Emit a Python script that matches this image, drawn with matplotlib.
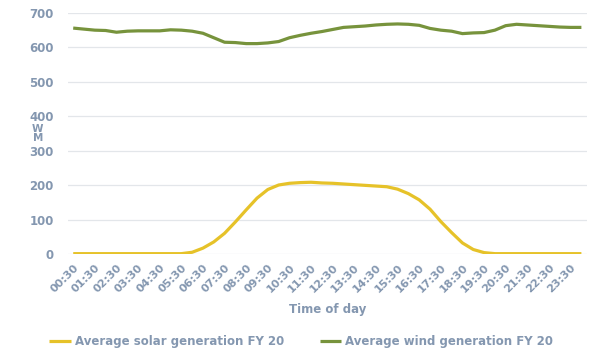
import matplotlib
matplotlib.use("Agg")
import matplotlib.pyplot as plt
import numpy as np

# half-hourly time slots, every other one labelled
times = [f"{(i + 1) // 2:02d}:{'30' if i % 2 == 0 else '00'}" for i in range(48)]
tick_labels = [f"{h:02d}:30" for h in range(24)]

solar = [1, 1, 1, 1, 1, 1, 1, 1, 1, 1, 1, 5, 17, 35, 60, 93, 128, 162, 187, 200,
         205, 207, 208, 206, 205, 203, 201, 199, 197, 195, 188, 175, 157, 130, 94, 62,
         32, 13, 4, 1, 1, 1, 1, 1, 1, 1, 1, 1]
wind = [655, 652, 649, 648, 643, 646, 647, 647, 647, 650, 649, 646, 640, 627, 614, 613,
        610, 610, 612, 616, 627, 634, 640, 645, 651, 657, 659, 661, 664, 666, 667, 666,
        663, 654, 649, 646, 639, 641, 642, 649, 662, 666, 664, 662, 660, 658, 657, 657]

text_col = "#8497b0"
solar_col = "#e6c229"
wind_col = "#77933c"

fig = plt.figure(figsize=(6, 3.54), dpi=100)
ax = fig.add_axes([0.113, 0.2825, 0.865, 0.682])

x = np.arange(len(times))
ax.plot(x, solar, color=solar_col, lw=2.3, label="Average solar generation FY 20",
        solid_capstyle="butt")
ax.plot(x, wind, color=wind_col, lw=2.3, label="Average wind generation FY 20",
        solid_capstyle="butt")

ax.set_xlim(-0.5, len(times) - 0.5)
ax.set_ylim(0, 700)
ax.set_yticks(range(0, 701, 100))
ax.set_xticks(x[::2])
ax.set_xticklabels(tick_labels, rotation=45, ha="right", rotation_mode="anchor")

for s in ax.spines.values():
    s.set_visible(False)
ax.grid(axis="y", color="#e3e6ea", lw=0.9)
ax.set_axisbelow(True)
ax.tick_params(length=0, colors=text_col, labelsize=8.5)
ax.tick_params(axis="y", pad=10)
ax.tick_params(axis="x", labelsize=8, pad=6)
for lab in ax.get_xticklabels() + ax.get_yticklabels():
    lab.set_fontweight("bold")

ax.set_xlabel("Time of day", color=text_col, fontsize=8.5, fontweight="bold", labelpad=6)
# stacked unit label between the 400 and 300 ticks
fig.text(0.063, 0.622, "W\nM", color=text_col, fontsize=7.5, fontweight="bold",
         ha="center", va="center", linespacing=0.88)

leg = fig.legend(loc="center", bbox_to_anchor=(0.502, 0.035), ncol=2, frameon=False,
                 fontsize=8.5, handlelength=1.8, handletextpad=0.35, columnspacing=3.0)
for t in leg.get_texts():
    t.set_color(text_col)
    t.set_fontweight("bold")

fig.savefig("out.png", dpi=100)
